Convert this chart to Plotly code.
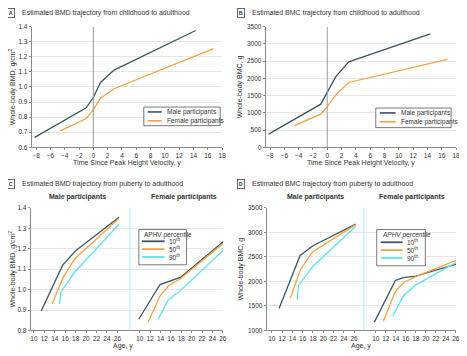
import plotly.graph_objects as go

# ---------------- data ----------------
# Panel A: BMD vs time since PHV
a_male_x = [-8.2, -1.0, 0.0, 1.0, 2.9, 14.3]
a_male_y = [0.665, 0.862, 0.93, 1.03, 1.112, 1.375]
a_fem_x = [-4.6, -1.0, 0.0, 1.0, 2.9, 16.8]
a_fem_y = [0.708, 0.79, 0.85, 0.925, 0.988, 1.255]

# Panel B: BMC vs time since PHV
b_male_x = [-8.2, -0.9, 0.0, 1.2, 3.0, 14.4]
b_male_y = [380, 1250, 1600, 2050, 2480, 3290]
b_fem_x = [-4.6, -0.9, 0.0, 1.2, 3.0, 16.8]
b_fem_y = [630, 960, 1180, 1520, 1880, 2550]

# Panel C: BMD vs age by APHV percentile
c_m10_x = [11.4, 15.5, 18.0, 26.3]
c_m10_y = [0.895, 1.12, 1.19, 1.355]
c_m50_x = [13.5, 13.8, 15.6, 17.8, 26.3]
c_m50_y = [0.93, 0.95, 1.06, 1.15, 1.348]
c_m90_x = [14.9, 15.2, 17.8, 26.3]
c_m90_y = [0.93, 0.99, 1.085, 1.32]
c_f10_x = [9.8, 13.9, 17.8, 26.2]
c_f10_y = [0.855, 1.025, 1.06, 1.237]
c_f50_x = [11.6, 13.9, 15.6, 17.8, 26.2]
c_f50_y = [0.84, 0.97, 1.02, 1.053, 1.23]
c_f90_x = [13.5, 15.5, 17.8, 26.2]
c_f90_y = [0.855, 0.95, 0.995, 1.195]

# Panel D: BMC vs age by APHV percentile
d_m10_x = [11.4, 15.5, 18.0, 26.3]
d_m10_y = [1450, 2530, 2730, 3170]
d_m50_x = [13.6, 13.8, 15.6, 17.9, 26.3]
d_m50_y = [1670, 1720, 2250, 2600, 3160]
d_m90_x = [14.9, 15.2, 18.0, 26.3]
d_m90_y = [1630, 1920, 2310, 3120]
d_f10_x = [9.7, 13.9, 15.5, 18.0, 26.3]
d_f10_y = [1170, 2020, 2080, 2110, 2360]
d_f50_x = [11.5, 13.9, 15.6, 18.0, 26.3]
d_f50_y = [1190, 1800, 1980, 2100, 2440]
d_f90_x = [13.4, 15.6, 18.0, 26.3]
d_f90_y = [1300, 1720, 1930, 2400]

pct_labels = ["10<sup>th</sup>", "50<sup>th</sup>", "90<sup>th</sup>"]
sex_labels = ["Male participants", "Female participants"]
age_ticks = [10, 12, 14, 16, 18, 20, 22, 24, 26]

# ---------------- style ----------------
OFF = 8                     # default page margin of the html body
W, H = 467 - OFF, 356 - OFF
C_DARK = "#3b5660"
C_ORANGE = "#f5a340"
C_CYAN = "#5fe3f0"
GRID = "#e6e6e6"
AXC = "#8a8a8a"
FONT = "Liberation Sans Narrow, Liberation Sans, Arial, sans-serif"
TXT = "#333333"


def px(x):
    return (x - OFF) / W


def py(y):
    return 1 - (y - OFF) / H


fig = go.Figure()


def line(x, y, xa, ya, color):
    fig.add_trace(go.Scatter(x=x, y=y, xaxis=xa, yaxis=ya, mode="lines",
                             line=dict(color=color, width=1.3),
                             showlegend=False, hoverinfo="skip"))


line(a_male_x, a_male_y, "x", "y", C_DARK)
line(a_fem_x, a_fem_y, "x", "y", C_ORANGE)
line(b_male_x, b_male_y, "x2", "y2", C_DARK)
line(b_fem_x, b_fem_y, "x2", "y2", C_ORANGE)

cols = [C_DARK, C_ORANGE, C_CYAN]
for (xs, ys), c in zip([(c_m10_x, c_m10_y), (c_m50_x, c_m50_y), (c_m90_x, c_m90_y)], cols):
    line(xs, ys, "x3", "y3", c)
for (xs, ys), c in zip([(c_f10_x, c_f10_y), (c_f50_x, c_f50_y), (c_f90_x, c_f90_y)], cols):
    line(xs, ys, "x4", "y3", c)
for (xs, ys), c in zip([(d_m10_x, d_m10_y), (d_m50_x, d_m50_y), (d_m90_x, d_m90_y)], cols):
    line(xs, ys, "x5", "y4", c)
for (xs, ys), c in zip([(d_f10_x, d_f10_y), (d_f50_x, d_f50_y), (d_f90_x, d_f90_y)], cols):
    line(xs, ys, "x6", "y4", c)

tickfont = dict(family=FONT, size=6.5, color=TXT)
titlefont = dict(family=FONT, size=7, color=TXT)


def xax(domain, rng, anchor, title=None, tickvals=None, dtick=2):
    d = dict(domain=domain, range=rng, anchor=anchor,
             showgrid=False, showline=True, linecolor=AXC, linewidth=1,
             ticks="outside", ticklen=2, tickcolor=AXC, tickfont=tickfont,
             tickangle=0, zeroline=False, fixedrange=True)
    if tickvals is not None:
        d["tickvals"] = tickvals
        d["tickmode"] = "array"
    else:
        d["dtick"] = dtick
    if title:
        d["title"] = dict(text=title, font=titlefont, standoff=1)
    return d


def yax(domain, rng, dtick, anchor, title, fmt=None):
    d = dict(domain=domain, range=rng, anchor=anchor, dtick=dtick,
             showgrid=True, gridcolor=GRID, gridwidth=1,
             showline=True, linecolor=AXC, linewidth=1,
             ticks="outside", ticklen=2, tickcolor=AXC, tickfont=tickfont,
             zeroline=False, fixedrange=True,
             title=dict(text=title, font=titlefont, standoff=3))
    if fmt:
        d["tickformat"] = fmt
    return d


yA = [py(146), py(23)]
yC = [py(333), py(208)]

fig.update_layout(
    width=W, height=H, margin=dict(l=0, r=0, t=0, b=0),
    paper_bgcolor="white", plot_bgcolor="white",
    font=dict(family=FONT, size=7, color=TXT),
    showlegend=False,
    xaxis=xax([px(32), px(224)], [-8.6, 18], "y", "Time Since Peak Height Velocity, y"),
    yaxis=yax(yA, [0.6, 1.4], 0.1, "x", "Whole-body BMD, g/cm<sup>2</sup>", ".1f"),
    xaxis2=xax([px(268), px(460)], [-8.6, 18], "y2", "Time Since Peak Height Velocity, y"),
    yaxis2=yax(yA, [0, 3500], 500, "x2", "Whole-body BMC, g"),
    xaxis3=xax([px(31), px(131)], [9.4, 28.4], "y3", tickvals=age_ticks),
    yaxis3=yax(yC, [0.8, 1.4], 0.1, "x3", "Whole-body BMD, g/cm<sup>2</sup>", ".1f"),
    xaxis4=xax([px(131), px(225)], [8.1, 26.05], "y3", tickvals=age_ticks),
    xaxis5=xax([px(269), px(367)], [9.0, 27.9], "y4", tickvals=age_ticks),
    yaxis4=yax(yC, [1000, 3500], 500, "x5", "Whole-body BMC, g"),
    xaxis6=xax([px(367), px(460)], [7.6, 26.05], "y4", tickvals=age_ticks),
)

shapes = []
annotations = []

# vertical reference line at 0 (A, B)
shapes.append(dict(type="line", xref="x", yref="y", x0=0, x1=0, y0=0.6, y1=1.4,
                   line=dict(color="#999999", width=1)))
shapes.append(dict(type="line", xref="x2", yref="y2", x0=0, x1=0, y0=0, y1=3500,
                   line=dict(color="#999999", width=1)))
# cyan dividers in C and D
for xp in [131, 367]:
    shapes.append(dict(type="line", xref="paper", yref="paper", x0=px(xp), x1=px(xp),
                       y0=yC[0], y1=yC[1], line=dict(color="#a8eef5", width=1)))


def text(x, y, t, size=7, anchor="left", bold=False, italic=False):
    if bold:
        t = "<b>" + t + "</b>"
    if italic:
        t = "<i>" + t + "</i>"
    annotations.append(dict(xref="paper", yref="paper", x=px(x), y=py(y), xanchor=anchor,
                            yanchor="middle", text=t, showarrow=False,
                            font=dict(family=FONT, size=size, color=TXT)))


def box(x0, y0, x1, y1, color="#555555", width=0.8):
    shapes.append(dict(type="rect", xref="paper", yref="paper", x0=px(x0), x1=px(x1),
                       y0=py(y1), y1=py(y0), line=dict(color=color, width=width),
                       fillcolor="white", layer="above"))


def seg(x0, x1, y, color, width=1.6):
    shapes.append(dict(type="line", xref="paper", yref="paper", x0=px(x0), x1=px(x1),
                       y0=py(y), y1=py(y), line=dict(color=color, width=width), layer="above"))


# legends A & B
for (bx0, bx1, by0, by1, sx0, sx1, tx, r1, r2) in [
        (145, 222, 105, 124, 149, 163, 166, 110, 119),
        (379, 455, 106, 126, 383, 399, 402, 111, 120)]:
    box(bx0, by0, bx1, by1)
    seg(sx0, sx1, r1, C_DARK)
    seg(sx0, sx1, r2, C_ORANGE)
    text(tx, r1, sex_labels[0], 6.5)
    text(tx, r2, sex_labels[1], 6.5)

# legends C & D
for (bx0, bx1, by0, by1, sx0, sx1, tx, rows, ital) in [
        (140, 188, 230, 266, 143, 166, 168, [242, 250, 258], False),
        (380, 429, 230, 267, 384, 406, 408, [243, 251, 259], True)]:
    box(bx0, by0, bx1, by1)
    text(bx0 + 3, 236, "APHV percentile", 6.5, italic=ital)
    for r, c, lab in zip(rows, cols, pct_labels):
        seg(sx0, sx1, r, c, 1.8)
        text(tx, r, lab, 6.5)


def panel_title(xbox, ytop, letter, t):
    annotations.append(dict(xref="paper", yref="paper", x=px(xbox), y=py(ytop), xanchor="left",
                            yanchor="middle", text="<b>" + letter + "</b>", showarrow=False,
                            font=dict(family=FONT, size=5.5, color=TXT),
                            bordercolor="#444444", borderwidth=0.8, borderpad=1))
    text(xbox + 13, ytop, t, 7)


panel_title(7, 9, "A", "Estimated BMD trajectory from childhood to adulthood")
panel_title(239, 9, "B", "Estimated BMC trajectory from childhood to adulthood")
panel_title(7, 184, "C", "Estimated BMD trajectory from puberty to adulthood")
panel_title(239, 184, "D", "Estimated BMC trajectory from puberty to adulthood")

for xc, t in [(78, sex_labels[0]), (186, sex_labels[1]), (318, sex_labels[0]), (416, sex_labels[1])]:
    text(xc, 197, t, 7, anchor="center", bold=True)
for xc in [124, 364]:
    text(xc, 349, "Age, y", 7, anchor="center")

fig.update_layout(shapes=shapes, annotations=annotations)

fig.write_html("out.html")
